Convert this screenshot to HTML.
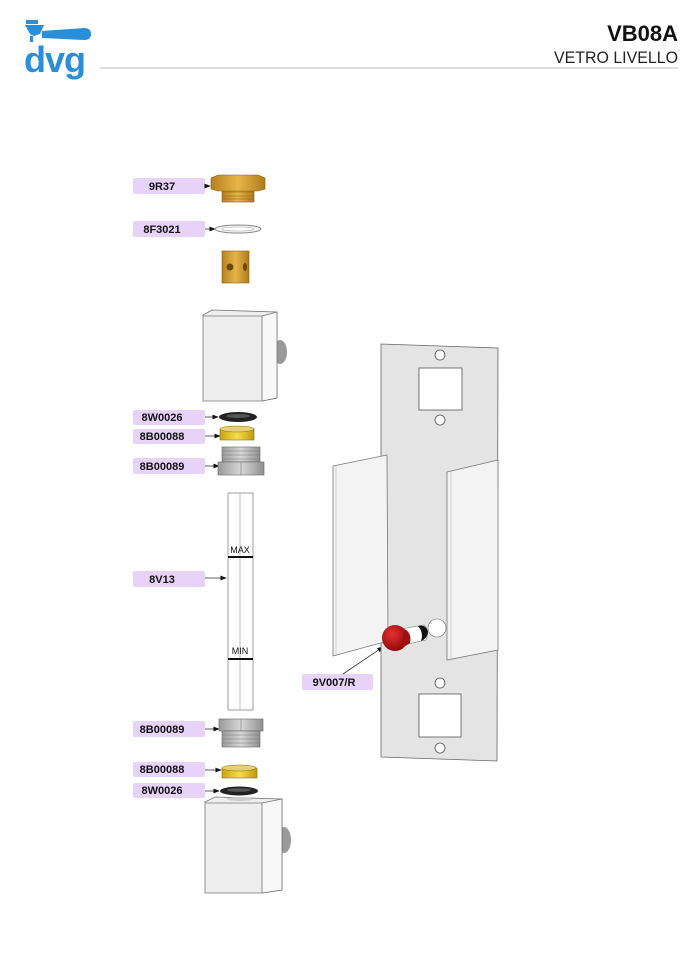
<!DOCTYPE html>
<html><head><meta charset="utf-8"><style>
html,body{margin:0;padding:0;background:#fff;}
svg{display:block}
text{font-family:"Liberation Sans",sans-serif;}
</style></head><body>
<svg width="700" height="965" viewBox="0 0 700 965" xmlns="http://www.w3.org/2000/svg">
<defs>
<marker id="ar" markerWidth="8" markerHeight="6" refX="7" refY="3" orient="auto"><path d="M0,0 L8,3 L0,6 Z" fill="#111"/></marker>
<linearGradient id="gold" x1="0" x2="1"><stop offset="0" stop-color="#b8801f"/><stop offset=".5" stop-color="#e7b54a"/><stop offset="1" stop-color="#b07a1c"/></linearGradient>
<linearGradient id="yel" x1="0" x2="1"><stop offset="0" stop-color="#c9a410"/><stop offset=".5" stop-color="#f5de4a"/><stop offset="1" stop-color="#c29a0c"/></linearGradient>
<linearGradient id="steel" x1="0" x2="1"><stop offset="0" stop-color="#9a9a9a"/><stop offset=".5" stop-color="#d8d8d8"/><stop offset="1" stop-color="#8f8f8f"/></linearGradient>
<radialGradient id="red" cx=".4" cy=".35" r=".7"><stop offset="0" stop-color="#e53030"/><stop offset="1" stop-color="#8a0808"/></radialGradient>
</defs>
<!-- header -->
<g fill="#2a8fd8">
<rect x="26" y="20" width="12" height="4"/>
<path d="M25,25 L44,25 L40,34 L34,36 L30,34 Z"/>
<path d="M42,31 L84,28 Q91,28 91,34 Q91,40 84,40 L42,38 Z"/>
<rect x="30" y="36" width="3" height="6"/>
<text x="24" y="72" font-size="36" font-weight="bold" letter-spacing="-1" fill="#2a8fd8">dvg</text>
</g>
<line x1="100" y1="68" x2="678" y2="68" stroke="#bbb" stroke-width="1"/>
<text x="678" y="41" font-size="22" font-weight="bold" text-anchor="end" fill="#111">VB08A</text>
<text x="678" y="63" font-size="17" text-anchor="end" fill="#222" textLength="124" lengthAdjust="spacingAndGlyphs">VETRO LIVELLO</text>

<!-- labels -->
<g font-size="11" font-weight="bold" text-anchor="middle" fill="#111">
<rect x="133" y="178" width="72" height="16" rx="2" fill="#e8d3f8"/><text x="162" y="190">9R37</text>
<rect x="133" y="221" width="72" height="16" rx="2" fill="#e8d3f8"/><text x="162" y="233">8F3021</text>
<rect x="133" y="410" width="72" height="15" rx="2" fill="#e8d3f8"/><text x="162" y="421">8W0026</text>
<rect x="133" y="429" width="72" height="15" rx="2" fill="#e8d3f8"/><text x="162" y="440">8B00088</text>
<rect x="133" y="458" width="72" height="16" rx="2" fill="#e8d3f8"/><text x="162" y="470">8B00089</text>
<rect x="133" y="571" width="72" height="16" rx="2" fill="#e8d3f8"/><text x="162" y="583">8V13</text>
<rect x="133" y="721" width="72" height="16" rx="2" fill="#e8d3f8"/><text x="162" y="733">8B00089</text>
<rect x="133" y="762" width="72" height="15" rx="2" fill="#e8d3f8"/><text x="162" y="773">8B00088</text>
<rect x="133" y="783" width="72" height="15" rx="2" fill="#e8d3f8"/><text x="162" y="794">8W0026</text>
<rect x="302" y="674" width="71" height="16" rx="2" fill="#e8d3f8"/><text x="334" y="686">9V007/R</text>
</g>
<g stroke="#333" stroke-width="0.8" marker-end="url(#ar)">
<line x1="205" y1="186" x2="210" y2="186"/>
<line x1="205" y1="229" x2="215" y2="229"/>
<line x1="205" y1="417" x2="218" y2="417"/>
<line x1="205" y1="436" x2="220" y2="436"/>
<line x1="205" y1="466" x2="219" y2="466"/>
<line x1="205" y1="578" x2="226" y2="578"/>
<line x1="205" y1="729" x2="219" y2="729"/>
<line x1="205" y1="770" x2="221" y2="770"/>
<line x1="205" y1="791" x2="219" y2="791"/>
<line x1="343" y1="674" x2="383" y2="647"/>
</g>

<!-- 9R37 cap -->
<rect x="222" y="188" width="32" height="14" fill="url(#gold)" stroke="#8a6010" stroke-width=".6"/>
<g stroke="#8a6010" stroke-width=".6"><line x1="222" y1="192" x2="254" y2="192"/><line x1="222" y1="196" x2="254" y2="196"/><line x1="222" y1="199" x2="254" y2="199"/></g>
<path d="M211,178 L218,175 L258,175 L265,178 L265,189 L258,191 L218,191 L211,189 Z" fill="url(#gold)" stroke="#8a6010" stroke-width=".6"/>
<!-- washer -->
<ellipse cx="238" cy="229" rx="23" ry="4" fill="#f4f4f4" stroke="#888" stroke-width="1"/>
<ellipse cx="238" cy="229" rx="16" ry="2" fill="#fff" stroke="#aaa" stroke-width=".6"/>
<!-- brass cylinder -->
<rect x="222" y="251" width="27" height="32" fill="url(#gold)" stroke="#8a6010" stroke-width=".6"/>
<circle cx="230" cy="267" r="3.5" fill="#6a4a10"/><ellipse cx="245" cy="267" rx="2" ry="4" fill="#6a4a10"/>
<!-- upper block -->
<ellipse cx="280" cy="352" rx="7" ry="12" fill="#999"/>
<path d="M203,315 L212,310 L277,312 L277,398 L262,401 L203,401 Z" fill="#eee" stroke="#777" stroke-width=".8"/>
<path d="M262,316 L277,312 L277,398 L262,401 Z" fill="#f8f8f8" stroke="#777" stroke-width=".8"/>
<line x1="203" y1="316" x2="262" y2="316" stroke="#777" stroke-width=".8"/>
<!-- upper o-ring -->
<ellipse cx="238" cy="417" rx="19" ry="5" fill="#222"/><ellipse cx="238" cy="416" rx="12" ry="2" fill="#555"/>
<!-- upper 8B00088 -->
<rect x="220" y="429" width="34" height="11" fill="url(#yel)" stroke="#8a7010" stroke-width=".6"/>
<ellipse cx="237" cy="429" rx="17" ry="3" fill="#e8d070" stroke="#8a7010" stroke-width=".6"/>
<!-- upper 8B00089 -->
<rect x="222" y="447" width="38" height="15" fill="url(#steel)" stroke="#666" stroke-width=".6"/>
<g stroke="#777" stroke-width=".6"><line x1="222" y1="451" x2="260" y2="451"/><line x1="222" y1="455" x2="260" y2="455"/><line x1="222" y1="459" x2="260" y2="459"/></g>
<rect x="218" y="462" width="46" height="13" fill="url(#steel)" stroke="#666" stroke-width=".6"/>
<line x1="241" y1="462" x2="241" y2="475" stroke="#777" stroke-width=".6"/>
<!-- tube -->
<rect x="228" y="493" width="25" height="217" fill="#fff" stroke="#888" stroke-width=".8"/>
<line x1="240" y1="493" x2="240" y2="710" stroke="#999" stroke-width=".6"/>
<text x="240" y="553" font-size="9" text-anchor="middle" fill="#111">MAX</text>
<line x1="228" y1="557" x2="253" y2="557" stroke="#111" stroke-width="2"/>
<text x="240" y="654" font-size="9" text-anchor="middle" fill="#111">MIN</text>
<line x1="228" y1="659" x2="253" y2="659" stroke="#111" stroke-width="2"/>
<!-- lower 8B00089 -->
<rect x="219" y="719" width="44" height="12" fill="url(#steel)" stroke="#666" stroke-width=".6"/>
<line x1="241" y1="719" x2="241" y2="731" stroke="#777" stroke-width=".6"/>
<rect x="222" y="731" width="38" height="16" fill="url(#steel)" stroke="#666" stroke-width=".6"/>
<g stroke="#777" stroke-width=".6"><line x1="222" y1="735" x2="260" y2="735"/><line x1="222" y1="739" x2="260" y2="739"/><line x1="222" y1="743" x2="260" y2="743"/></g>
<!-- lower 8B00088 -->
<rect x="222" y="768" width="35" height="10" fill="url(#yel)" stroke="#8a7010" stroke-width=".6"/>
<ellipse cx="239" cy="768" rx="17" ry="3" fill="#e8d070" stroke="#8a7010" stroke-width=".6"/>
<!-- lower o-ring -->
<ellipse cx="239" cy="791" rx="19" ry="4.5" fill="#222"/><ellipse cx="239" cy="790" rx="12" ry="1.8" fill="#555"/>
<!-- lower block -->
<ellipse cx="284" cy="840" rx="7" ry="13" fill="#999"/>
<path d="M205,802 L215,797 L282,799 L282,890 L262,893 L205,893 Z" fill="#eee" stroke="#777" stroke-width=".8"/>
<path d="M262,803 L282,799 L282,890 L262,893 Z" fill="#f8f8f8" stroke="#777" stroke-width=".8"/>
<line x1="205" y1="803" x2="262" y2="803" stroke="#777" stroke-width=".8"/>
<ellipse cx="240" cy="799" rx="13" ry="2" fill="#ccc"/>

<!-- panel -->
<path d="M381,344 L498,348 L497,761 L381,757 Z" fill="#e4e4e4" stroke="#666" stroke-width=".8"/>
<rect x="419" y="368" width="43" height="42" fill="#fff" stroke="#555" stroke-width=".8"/>
<circle cx="440" cy="355" r="5" fill="#fff" stroke="#555" stroke-width=".8"/>
<circle cx="440" cy="420" r="5" fill="#fff" stroke="#555" stroke-width=".8"/>
<circle cx="440" cy="683" r="5" fill="#fff" stroke="#555" stroke-width=".8"/>
<rect x="419" y="694" width="42" height="43" fill="#fff" stroke="#555" stroke-width=".8"/>
<circle cx="440" cy="748" r="5" fill="#fff" stroke="#555" stroke-width=".8"/>
<!-- left flange -->
<path d="M333,466 L387,455 L388,641 L333,656 Z" fill="#f3f3f3" stroke="#777" stroke-width=".8"/>
<line x1="336" y1="466" x2="336" y2="655" stroke="#bbb" stroke-width=".6"/>
<!-- right flange -->
<path d="M447,472 L498,460 L498,650 L447,660 Z" fill="#f3f3f3" stroke="#777" stroke-width=".8"/>
<line x1="451" y1="471" x2="451" y2="659" stroke="#bbb" stroke-width=".6"/>
<!-- button -->
<circle cx="437" cy="628" r="9" fill="#fff" stroke="#666" stroke-width=".6"/>
<path d="M401,629 L424,625 Q430,630 426,640 L403,645 Z" fill="#fff" stroke="#777" stroke-width=".6"/>
<path d="M418,626 Q426,624 428,632 Q427,639 421,641 Q424,633 418,626 Z" fill="#111"/>
<circle cx="395" cy="638" r="13" fill="url(#red)"/>
<path d="M404,629 Q412,632 410,643 Q405,647 402,646 Z" fill="#a01010"/>
</svg>
</body></html>
